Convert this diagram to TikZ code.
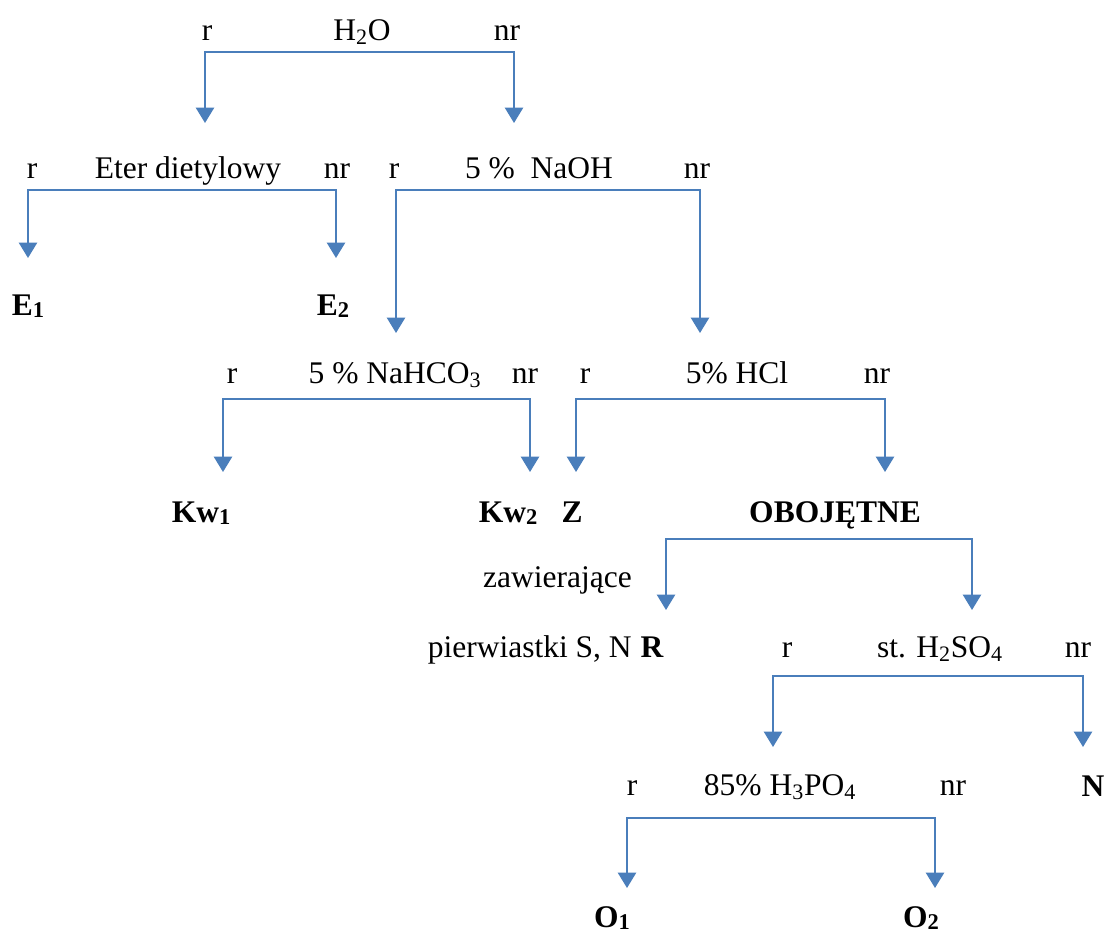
\documentclass[tikz,border=0pt]{standalone}
\usepackage{fontspec}
\setmainfont{Liberation Serif}
\usetikzlibrary{arrows.meta}

\definecolor{forkblue}{RGB}{74,126,187}
\newcommand{\lowsub}[1]{\raisebox{-1.5pt}{\fontsize{16}{16}\selectfont #1}}

\begin{document}
\begin{tikzpicture}[x=0.025cm, y=-0.025cm,
  txt/.style={anchor=base, inner sep=0pt, font=\fontsize{22.4}{27}\selectfont},
  res/.style={txt, font=\fontsize{22.4}{27}\selectfont\bfseries},
  fork/.style={draw=forkblue, line width=1.4pt, line join=miter,
    {Triangle[length=11pt, width=13pt]}-{Triangle[length=11pt, width=13pt]}}]

  \useasboundingbox (0,0) rectangle (1108,936);

  % woda
  \node[txt] (r1)   at (207,40) {r};
  \node[txt] (h2o)  at (362,40) {H\textsubscript{2}O};
  \node[txt] (nr1)  at (507,40) {nr};
  \coordinate (h2o-l) at (205,52);
  \coordinate (h2o-r) at (514,52);
  \coordinate (h2o-tl) at (205,123);
  \coordinate (h2o-tr) at (514,123);
  \draw[fork] (h2o-tl) -- (h2o-l) -- (h2o-r) -- (h2o-tr);

  % eter dietylowy
  \node[txt] (r2)   at (32,178)  {r};
  \node[txt] (eter) at (188,178) {Eter dietylowy};
  \node[txt] (nr2)  at (337,178) {nr};
  \coordinate (eter-l) at (28,190);
  \coordinate (eter-r) at (336,190);
  \draw[fork] (eter-l |- 0,258) -- (eter-l) -- (eter-r) -- (eter-r |- 0,258);

  \node[res] (e1) at (28,315)  {E\lowsub{1}};
  \node[res] (e2) at (333,315) {E\lowsub{2}};

  % NaOH
  \node[txt] (r3)   at (394,178) {r};
  \node[txt] (naoh) at (539,178) {5 \% \ NaOH};
  \node[txt] (nr3)  at (697,178) {nr};
  \coordinate (naoh-l) at (396,190);
  \coordinate (naoh-r) at (700,190);
  \draw[fork] (naoh-l |- 0,333) -- (naoh-l) -- (naoh-r) -- (naoh-r |- 0,333);

  % NaHCO3
  \node[txt] (r4)     at (232,383) {r};
  \node[txt] (nahco3) at (395,383) {5 \% NaHCO\textsubscript{3}};
  \node[txt] (nr4)    at (525,383) {nr};
  \coordinate (nahco3-l) at (223,399);
  \coordinate (nahco3-r) at (530,399);
  \draw[fork] (nahco3-l |- 0,472) -- (nahco3-l) -- (nahco3-r) -- (nahco3-r |- 0,472);

  \node[res] (kw1) at (201,522) {Kw\lowsub{1}};
  \node[res] (kw2) at (508,522) {Kw\lowsub{2}};

  % HCl
  \node[txt] (r5)  at (585,383) {r};
  \node[txt] (hcl) at (737,383) {5\% HCl};
  \node[txt] (nr5) at (877,383) {nr};
  \coordinate (hcl-l) at (576,399);
  \coordinate (hcl-r) at (885,399);
  \draw[fork] (hcl-l |- 0,472) -- (hcl-l) -- (hcl-r) -- (hcl-r |- 0,472);

  \node[res] (z)   at (572,522) {Z};
  \node[res] (obo) at (835,522) {OBOJĘTNE};
  \coordinate (obo-l) at (666,539);
  \coordinate (obo-r) at (972,539);
  \draw[fork] (obo-l |- 0,610) -- (obo-l) -- (obo-r) -- (obo-r |- 0,610);

  \node[txt, anchor=base east] (zaw)  at (632,587) {zawierające};
  \node[txt, anchor=base east] (pier) at (632,657) {pierwiastki S, N};
  \node[res] (rr) at (652,657) {R};

  % H2SO4
  \node[txt] (r6)    at (787,657)  {r};
  \node[txt] (h2so4) at (940,657)  {st. H\textsubscript{2}SO\textsubscript{4}};
  \node[txt] (nr6)   at (1078,657) {nr};
  \coordinate (h2so4-l) at (773,676);
  \coordinate (h2so4-r) at (1083,676);
  \draw[fork] (h2so4-l |- 0,747) -- (h2so4-l) -- (h2so4-r) -- (h2so4-r |- 0,747);

  \node[res] (n) at (1093,796) {N};

  % H3PO4
  \node[txt] (r7)    at (632,795) {r};
  \node[txt] (h3po4) at (780,795) {85\% H\textsubscript{3}PO\textsubscript{4}};
  \node[txt] (nr7)   at (953,795) {nr};
  \coordinate (h3po4-l) at (627,818);
  \coordinate (h3po4-r) at (935,818);
  \draw[fork] (h3po4-l |- 0,888) -- (h3po4-l) -- (h3po4-r) -- (h3po4-r |- 0,888);

  \node[res] (o1) at (612,927) {O\lowsub{1}};
  \node[res] (o2) at (921,927) {O\lowsub{2}};

\end{tikzpicture}
\end{document}
